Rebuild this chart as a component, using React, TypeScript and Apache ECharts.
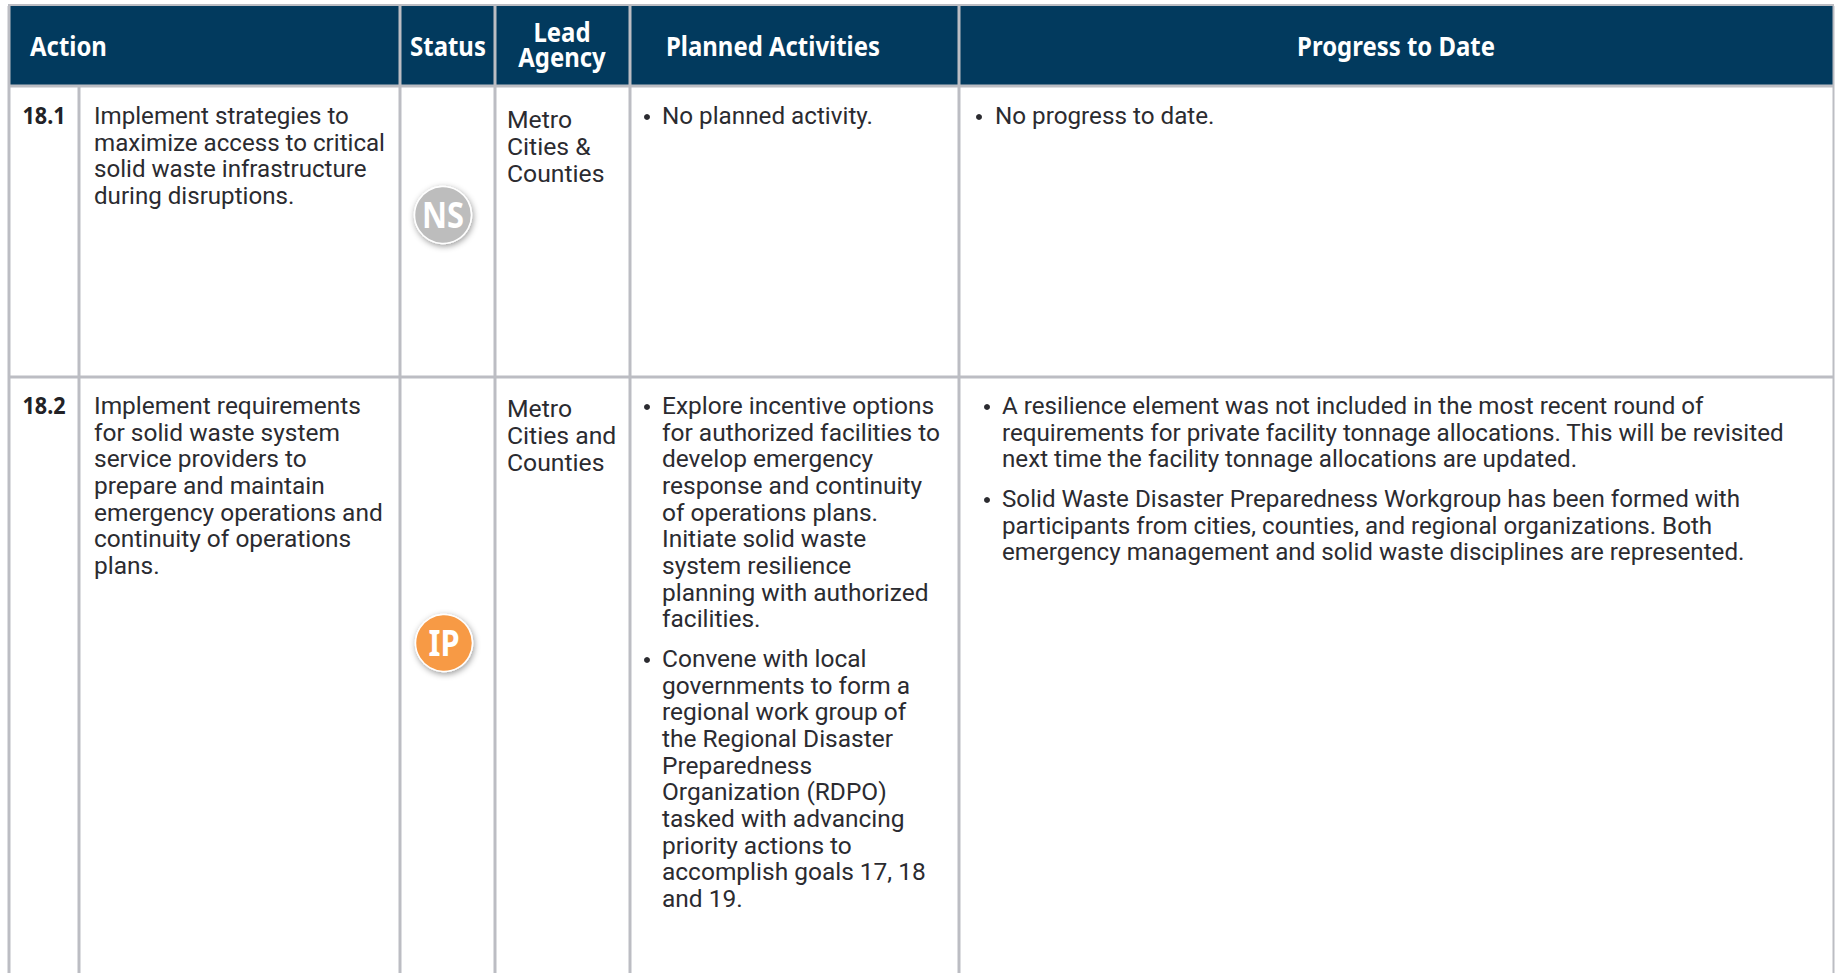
import React, { useEffect, useRef } from "react";
import * as echarts from "echarts";

const headerCells = [
  { lines: ["Action"], x: 30, anchor: "left" },
  { lines: ["Status"], x: 448, anchor: "center" },
  { lines: ["Lead", "Agency"], x: 562, anchor: "center" },
  { lines: ["Planned Activities"], x: 773, anchor: "center" },
  { lines: ["Progress to Date"], x: 1396, anchor: "center" },
];

const actionIds = ["18.1", "18.2"];
const statusCodes = ["NS", "IP"];
const statusColors = ["#bdbdbd", "#f79a45"];

const row1Action = [
  "Implement strategies to",
  "maximize access to critical",
  "solid waste infrastructure",
  "during disruptions.",
];
const row2Action = [
  "Implement requirements",
  "for solid waste system",
  "service providers to",
  "prepare and maintain",
  "emergency operations and",
  "continuity of operations",
  "plans.",
];
const row1Lead = ["Metro", "Cities &", "Counties"];
const row2Lead = ["Metro", "Cities and", "Counties"];
const row1Planned = [["No planned activity."]];
const row2Planned = [
  [
    "Explore incentive options",
    "for authorized facilities to",
    "develop emergency",
    "response and continuity",
    "of operations plans.",
    "Initiate solid waste",
    "system resilience",
    "planning with authorized",
    "facilities.",
  ],
  [
    "Convene with local",
    "governments to form a",
    "regional work group of",
    "the Regional Disaster",
    "Preparedness",
    "Organization (RDPO)",
    "tasked with advancing",
    "priority actions to",
    "accomplish goals 17, 18",
    "and 19.",
  ],
];
const row1Progress = [["No progress to date."]];
const row2Progress = [
  [
    "A resilience element was not included in the most recent round of",
    "requirements for private facility tonnage allocations. This will be revisited",
    "next time the facility tonnage allocations are updated.",
  ],
  [
    "Solid Waste Disaster Preparedness Workgroup has been formed with",
    "participants from cities, counties, and regional organizations. Both",
    "emergency management and solid waste disciplines are represented.",
  ],
];

const W = 1837;
const H = 973;
const LEFT = 9;
const RIGHT = 1833;
const TOP = 6;
const HEAD_BOTTOM = 86;
const ROW2_TOP = 377;
const COL_X = [400, 495, 630, 959];
const ID_COL_X = 79;
const LINE_H = 26.67;
const BODY_FONT = "Roboto";
const BODY_SIZE = 24;
const HEAD_FONT = "Noto Sans";
const HEAD_SIZE = 26;
const GRID = "#bcbdc3";
const NAVY = "#023a5e";
const INK = "#2b2b30";

function bodyText(text: string, x: number, y: number, sx = 1) {
  return {
    type: "text",
    x,
    y,
    scaleX: sx,
    style: {
      text,
      fill: INK,
      font: `400 ${BODY_SIZE}px ${BODY_FONT}`,
      textAlign: "left",
      textVerticalAlign: "middle",
    },
  };
}

function block(lines: string[], x: number, y: number, sx = 1) {
  return lines.map((t, i) => bodyText(t, x, y + i * LINE_H, sx));
}

function bullets(groups: string[][], bx: number, x: number, starts: number[], sx = 1) {
  const out: any[] = [];
  groups.forEach((g, i) => {
    out.push({ type: "circle", shape: { cx: bx, cy: starts[i] + 1, r: 3 }, style: { fill: INK } });
    out.push(...block(g, x, starts[i], sx));
  });
  return out;
}

function vline(x: number, y1: number, y2: number, w = 3) {
  return { type: "line", shape: { x1: x, y1, x2: x, y2 }, style: { stroke: GRID, lineWidth: w } };
}
function hline(y: number, w = 3) {
  return { type: "line", shape: { x1: LEFT - 1, y1: y, x2: RIGHT + 1, y2: y }, style: { stroke: GRID, lineWidth: w } };
}

function badge(code: string, color: string, cx: number, cy: number) {
  return [
    {
      type: "circle",
      shape: { cx, cy, r: 28.5 },
      style: { fill: color, stroke: "#ffffff", lineWidth: 1.5, shadowBlur: 6, shadowOffsetX: 1, shadowOffsetY: 2, shadowColor: "rgba(0,0,0,0.4)" },
    },
    {
      type: "text",
      x: cx,
      y: cy,
      scaleX: 0.88,
      style: { text: code, fill: "#ffffff", font: `700 35px ${HEAD_FONT}`, textAlign: "center", textVerticalAlign: "middle" },
    },
  ];
}

export default function App() {
  const ref = useRef<HTMLDivElement>(null);
  useEffect(() => {
    document.body.style.margin = "0";
    const chart = echarts.init(ref.current!, null, { renderer: "svg" });
    const els: any[] = [];
    els.push({ type: "rect", shape: { x: 0, y: 0, width: W, height: H }, style: { fill: "#ffffff" } });
    els.push({ type: "rect", shape: { x: LEFT, y: TOP, width: RIGHT - LEFT, height: HEAD_BOTTOM - TOP }, style: { fill: NAVY } });
    els.push(vline(LEFT, TOP, H, 3));
    els.push(vline(RIGHT + 0.5, TOP, H, 2));
    COL_X.forEach((x) => els.push(vline(x, TOP, H)));
    els.push(vline(ID_COL_X, HEAD_BOTTOM, H));
    els.push(hline(TOP - 1, 2));
    els.push(hline(HEAD_BOTTOM));
    els.push(hline(ROW2_TOP));

    headerCells.forEach((c) => {
      const ys = c.lines.length === 2 ? [32, 57] : [46];
      c.lines.forEach((t, i) =>
        els.push({
          type: "text",
          x: c.x,
          y: ys[i],
          scaleX: 0.92,
          style: { text: t, fill: "#ffffff", font: `700 ${HEAD_SIZE}px ${HEAD_FONT}`, textAlign: c.anchor, textVerticalAlign: "middle" },
        })
      );
    });

    const idStyle = (t: string, y: number) => ({
      type: "text",
      x: 44,
      y,
      scaleX: 0.9,
      style: { text: t, fill: "#222226", font: `700 24px ${HEAD_FONT}`, textAlign: "center", textVerticalAlign: "middle" },
    });
    els.push(idStyle(actionIds[0], 115));
    els.push(idStyle(actionIds[1], 405));

    els.push(...block(row1Action, 94, 116, 1.005));
    els.push(...block(row2Action, 94, 406, 1.02));
    els.push(...block(row1Lead, 507, 120, 1.03));
    els.push(...block(row2Lead, 507, 409, 1.03));
    els.push(...bullets(row1Planned, 647, 662, [116], 1.01));
    els.push(...bullets(row2Planned, 647, 662, [406, 659], 1.02));
    els.push(...bullets(row1Progress, 979, 995, [116], 1.01));
    els.push(...bullets(row2Progress, 987, 1002, [406, 499], 1.008));
    els.push(...badge(statusCodes[0], statusColors[0], 443, 215));
    els.push(...badge(statusCodes[1], statusColors[1], 444, 643));

    chart.setOption({ animation: false, graphic: { elements: els } });
    return () => chart.dispose();
  }, []);
  return <div ref={ref} style={{ width: W, height: H, overflow: "hidden" }} />;
}
